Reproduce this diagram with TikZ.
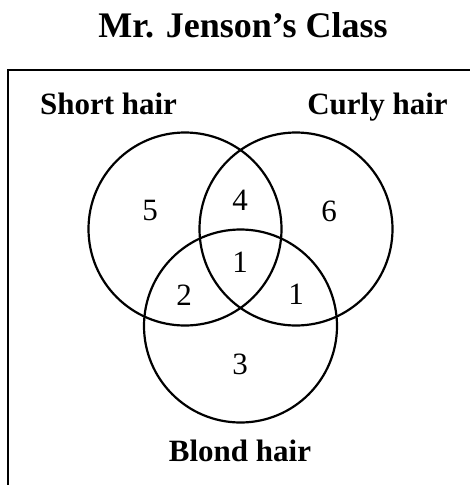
\documentclass[tikz,border=0pt]{standalone}
\usepackage{fontspec}
\setmainfont{Liberation Serif}
\usetikzlibrary{positioning}

\begin{document}
\begin{tikzpicture}[x=1pt, y=-1pt,
    set/.style={draw, circle, line width=2.2pt, minimum size=193pt, inner sep=0pt},
    ttl/.style={font=\fontsize{36}{36}\selectfont\bfseries, anchor=base, inner sep=0pt},
    lbl/.style={font=\fontsize{31}{31}\selectfont\bfseries, anchor=base, inner sep=0pt},
    num/.style={font=\fontsize{31}{31}\selectfont, inner sep=0pt}]
  \useasboundingbox (0,0) rectangle (470,485);
  % frame, cut off at the right and bottom
  \begin{scope}
    \clip (0,0) rectangle (470,485);
    \draw[line width=2.2pt] (8,500) -- (8,70) -- (490,70);
  \end{scope}
  \node[ttl] (title) at (243,37) {Mr. Jenson’s Class};
  % the three sets
  \node[set] (short) at (185,229) {};
  \node[set] (curly) at (296,229) {};
  \node[set] (blond) at (240.5,326) {};
  \node[lbl] (shortlbl) at (108.5,114) {Short hair};
  \node[lbl] (curlylbl) at (377.5,114) {Curly hair};
  \node[lbl] (blondlbl) at (240,461) {Blond hair};
  % counts
  \node[num] (nS)   at (150,210) {5};
  \node[num] (nSC)  at (240,200) {4};
  \node[num] (nC)   at (329,211) {6};
  \node[num] (nSCB) at (240,262) {1};
  \node[num] (nSB)  at (184,295) {2};
  \node[num] (nCB)  at (296,294) {1};
  \node[num] (nB)   at (240,364) {3};
\end{tikzpicture}
\end{document}
